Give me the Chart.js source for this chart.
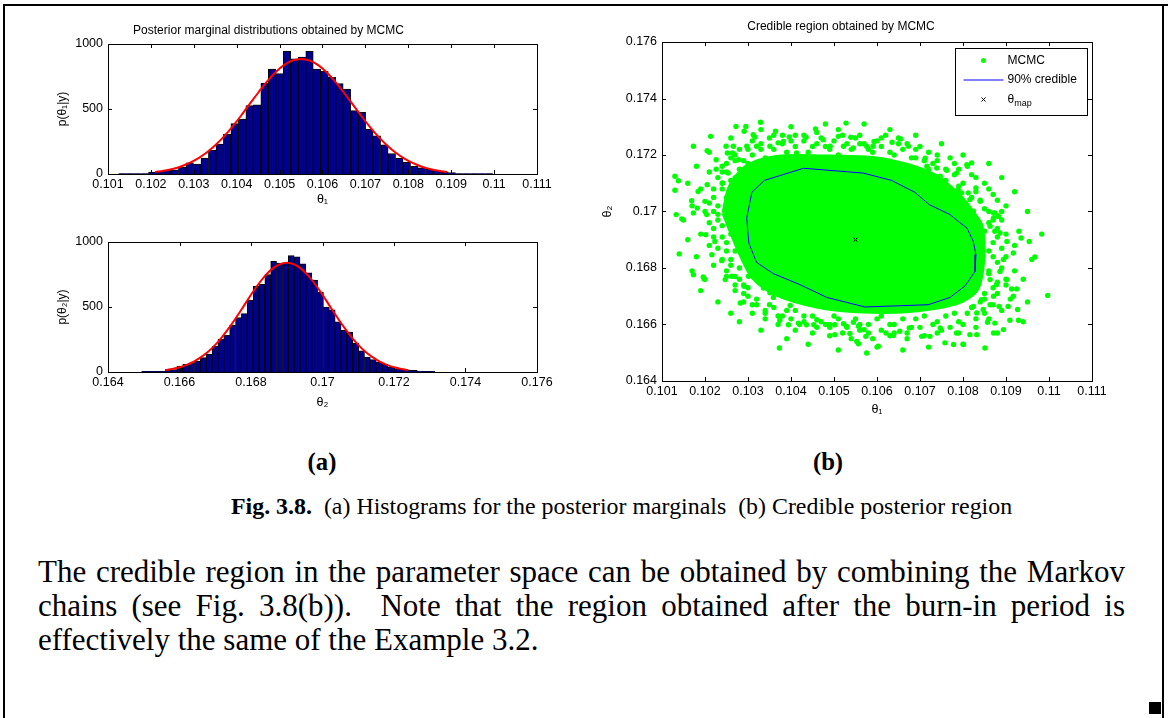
<!DOCTYPE html>
<html>
<head>
<meta charset="utf-8">
<script src="https://cdn.jsdelivr.net/npm/chart.js@4.4.1/dist/chart.umd.min.js"></script>
<style>
    html, body { margin: 0; padding: 0; background: #fff; }
    body { width: 1168px; height: 718px; position: relative; overflow: hidden; color: #000; font-family: "Liberation Serif", "Times New Roman", serif; }
    canvas { position: absolute; }
    #hist1 { left: 0; top: 0; }
    #hist2 { left: 0; top: 222px; }
    #region { left: 590px; top: 0; }
    .rule { position: absolute; background: #000; }
    .panel { position: absolute; top: 447px; line-height: 30px; font-size: 24.7px; font-weight: bold; transform: translateX(-50%); }
    .caption { position: absolute; left: 231px; top: 491px; line-height: 30px; font-size: 23.9px; white-space: nowrap; }
    .body-text { position: absolute; left: 38px; width: 1087px; font-size: 31px; line-height: 34px; }
    .body-text div { text-align: justify; text-align-last: justify; white-space: nowrap; }
    .body-text div.last { text-align: left; text-align-last: left; }
    .qed { position: absolute; left: 1149px; top: 702px; width: 12px; height: 12px; background: #000; }
</style>
</head>
<body>
<div class="rule" style="left:3px; top:4px; width:1165px; height:2px;"></div>
<div class="rule" style="left:3px; top:4px; width:2px; height:714px;"></div>
<div class="rule" style="left:1162px; top:4px; width:2px; height:714px;"></div>

<canvas id="hist1" width="560" height="222"></canvas>
<canvas id="hist2" width="560" height="203"></canvas>
<canvas id="region" width="560" height="425"></canvas>

<div class="panel" style="left:322px;">(a)</div>
<div class="panel" style="left:828px;">(b)</div>
<div class="caption"><b>Fig. 3.8.</b>&nbsp; (a) Histograms for the posterior marginals &nbsp;(b) Credible posterior region</div>
<div class="body-text" style="top:555px;">
    <div>The credible region in the parameter space can be obtained by combining the Markov</div>
    <div>chains (see Fig. 3.8(b)).&nbsp; Note that the region obtained after the burn-in period is</div>
    <div class="last">effectively the same of the Example 3.2.</div>
</div>
<div class="qed"></div>

<script>
// theta_1 marginal: 50 histogram bins (centres) and counts
const theta1Bins = [0.101334, 0.101509, 0.101683, 0.101858, 0.102032, 0.102207, 0.102381, 0.102556, 0.102730, 0.102905,
    0.103079, 0.103254, 0.103428, 0.103603, 0.103777, 0.103952, 0.104126, 0.104301, 0.104475, 0.104650,
    0.104824, 0.104999, 0.105173, 0.105348, 0.105522, 0.105697, 0.105871, 0.106046, 0.106220, 0.106395,
    0.106569, 0.106744, 0.106918, 0.107093, 0.107267, 0.107442, 0.107616, 0.107791, 0.107965, 0.108140,
    0.108314, 0.108489, 0.108663, 0.108838, 0.109012, 0.109187, 0.109361, 0.109536, 0.109710, 0.109885];
const theta1Counts = [3, 3, 3, 3, 15, 20, 28, 33, 54, 85,
    77, 123, 182, 230, 308, 387, 423, 526, 533, 700,
    808, 772, 944, 885, 900, 944, 808, 790, 744, 695,
    654, 487, 475, 343, 293, 225, 158, 120, 90, 59,
    48, 38, 30, 16, 10, 3, 3, 3, 3, 3];
// fitted density for theta_1 (scaled to counts)
const theta1FitX = [0.1021, 0.1023, 0.1025, 0.1027, 0.1029, 0.1031, 0.1033, 0.1035, 0.1037, 0.1039,
    0.1041, 0.1043, 0.1045, 0.1047, 0.1049, 0.1051, 0.1053, 0.1055, 0.1057, 0.1059,
    0.1061, 0.1063, 0.1065, 0.1067, 0.1069, 0.1071, 0.1073, 0.1075, 0.1077, 0.1079,
    0.1081, 0.1083, 0.1085, 0.1087, 0.1089];
const theta1FitY = [16, 25, 39, 58, 85, 120, 165, 221, 287, 364,
    448, 537, 625, 709, 781, 837, 873, 885, 873, 837,
    781, 709, 625, 537, 448, 364, 287, 221, 165, 120,
    85, 58, 39, 25, 16];
const theta1Ticks = [0.101, 0.102, 0.103, 0.104, 0.105, 0.106, 0.107, 0.108, 0.109, 0.110, 0.111];

// theta_2 marginal
const theta2Bins = [0.165025, 0.165189, 0.165353, 0.165517, 0.165681, 0.165845, 0.166009, 0.166173, 0.166337, 0.166501,
    0.166665, 0.166829, 0.166993, 0.167157, 0.167321, 0.167485, 0.167649, 0.167813, 0.167977, 0.168141,
    0.168305, 0.168469, 0.168633, 0.168797, 0.168961, 0.169125, 0.169289, 0.169453, 0.169617, 0.169781,
    0.169945, 0.170109, 0.170273, 0.170437, 0.170601, 0.170765, 0.170929, 0.171093, 0.171257, 0.171421,
    0.171585, 0.171749, 0.171913, 0.172077, 0.172241, 0.172405, 0.172569, 0.172733, 0.172897, 0.173061];
const theta2Counts = [5, 5, 5, 5, 18, 18, 46, 59, 69, 82,
    110, 136, 197, 251, 282, 359, 418, 449, 551, 659,
    674, 749, 851, 838, 838, 895, 885, 833, 762, 705,
    615, 500, 479, 385, 320, 308, 223, 162, 115, 95,
    77, 59, 38, 26, 20, 15, 12, 8, 5, 5];
const theta2FitX = [0.1656, 0.1658, 0.1660, 0.1662, 0.1664, 0.1666, 0.1668, 0.1670, 0.1672, 0.1674,
    0.1676, 0.1678, 0.1680, 0.1682, 0.1684, 0.1686, 0.1688, 0.1690, 0.1692, 0.1694,
    0.1696, 0.1698, 0.1700, 0.1702, 0.1704, 0.1706, 0.1708, 0.1710, 0.1712, 0.1714,
    0.1716, 0.1718, 0.1720, 0.1722, 0.1724];
const theta2FitY = [15, 24, 37, 55, 80, 114, 156, 209, 273, 345,
    425, 509, 594, 673, 741, 795, 828, 840, 828, 795,
    741, 673, 594, 509, 425, 345, 273, 209, 156, 114,
    80, 55, 37, 24, 15];
const theta2Ticks = [0.164, 0.166, 0.168, 0.170, 0.172, 0.174, 0.176];
const countTicks = [0, 500, 1000];

// joint MCMC samples: solid core of the cloud, then the individual samples around it
const mcmcCore = [[0.10243, 0.16995], [0.10258, 0.17089], [0.10297, 0.17160], [0.10367, 0.17193], [0.10475, 0.17195],
    [0.10591, 0.17189], [0.10669, 0.17166], [0.10739, 0.17124], [0.10793, 0.17054], [0.10824, 0.16995],
    [0.10843, 0.16948], [0.10847, 0.16829], [0.10832, 0.16723], [0.10785, 0.16676], [0.10669, 0.16647],
    [0.10553, 0.16647], [0.10460, 0.16664], [0.10367, 0.16706], [0.10312, 0.16765], [0.10281, 0.16853],
    [0.10258, 0.16936], [0.10243, 0.16995]];
const mcmcSamples = [
    [0.10130, 0.17125], [0.10138, 0.17109], [0.10130, 0.17075], [0.10173, 0.17231], [0.10205, 0.17215], [0.10213, 0.17266],
    [0.10226, 0.17183], [0.10249, 0.17231], [0.10252, 0.17207], [0.10272, 0.17301], [0.10295, 0.17301], [0.10291, 0.17284],
    [0.10329, 0.17316], [0.10312, 0.17272], [0.10316, 0.17264], [0.10364, 0.17284], [0.10435, 0.17263], [0.10457, 0.17292],
    [0.10396, 0.17264], [0.10528, 0.17313], [0.10510, 0.17266], [0.10539, 0.17263], [0.10593, 0.17248], [0.10655, 0.17257],
    [0.10635, 0.17245], [0.10673, 0.17231], [0.10712, 0.17189], [0.10762, 0.17146], [0.10809, 0.17166], [0.10820, 0.17172],
    [0.10830, 0.17083], [0.10840, 0.17036], [0.10871, 0.16995], [0.10882, 0.16983], [0.10789, 0.17077], [0.10812, 0.17066],
    [0.10184, 0.17071], [0.10169, 0.17038], [0.10182, 0.17012], [0.10200, 0.17036], [0.10205, 0.17095], [0.10226, 0.17150],
    [0.10241, 0.17101], [0.10254, 0.17136], [0.10266, 0.17231], [0.10264, 0.17207], [0.10278, 0.17183], [0.10297, 0.17231],
    [0.10320, 0.17231], [0.10351, 0.17231], [0.10370, 0.17243], [0.10382, 0.17248], [0.10413, 0.17207], [0.10475, 0.17254],
    [0.10491, 0.17231], [0.10522, 0.17231], [0.10545, 0.17225], [0.10576, 0.17231], [0.10591, 0.17231], [0.10716, 0.17160],
    [0.10739, 0.17154], [0.10747, 0.17125], [0.10785, 0.17136], [0.10797, 0.17066], [0.10816, 0.17042], [0.10824, 0.17001],
    [0.10133, 0.16989], [0.10146, 0.16974], [0.10173, 0.16995], [0.10204, 0.16989], [0.10202, 0.16918], [0.10216, 0.16847],
    [0.10223, 0.16894], [0.10239, 0.16826], [0.10247, 0.16759], [0.10262, 0.16771], [0.10173, 0.16776], [0.10196, 0.16768],
    [0.10198, 0.16761], [0.10282, 0.16676], [0.10291, 0.16735], [0.10301, 0.16771], [0.10336, 0.16729], [0.10351, 0.16712],
    [0.10359, 0.16696], [0.10382, 0.16700], [0.10398, 0.16667], [0.10409, 0.16688], [0.10417, 0.16605], [0.10436, 0.16599],
    [0.10453, 0.16599], [0.10491, 0.16599], [0.10502, 0.16599], [0.10522, 0.16603], [0.10529, 0.16594], [0.10537, 0.16568],
    [0.10545, 0.16608], [0.10557, 0.16594], [0.10570, 0.16582], [0.10574, 0.16558], [0.10576, 0.16499], [0.10603, 0.16523],
    [0.10621, 0.16570], [0.10638, 0.16561], [0.10653, 0.16576], [0.10675, 0.16588], [0.10704, 0.16558], [0.10723, 0.16558],
    [0.10747, 0.16588], [0.10758, 0.16535], [0.10778, 0.16529], [0.10801, 0.16529], [0.10785, 0.16570], [0.10816, 0.16564],
    [0.10832, 0.16564], [0.10851, 0.16517], [0.10871, 0.16570], [0.10894, 0.16582], [0.10909, 0.16615], [0.10874, 0.16605],
    [0.10857, 0.16608], [0.10929, 0.16615], [0.10927, 0.16653], [0.10905, 0.16664], [0.10913, 0.16726], [0.10925, 0.16726],
    [0.10917, 0.16853], [0.10935, 0.16906], [0.10954, 0.16894], [0.10967, 0.16839], [0.10983, 0.16920], [0.10997, 0.16703],
    [0.10902, 0.16894], [0.10894, 0.16830], [0.10886, 0.16788], [0.10878, 0.16741], [0.10871, 0.16700], [0.10884, 0.16664],
    [0.10863, 0.16759], [0.10902, 0.16759], [0.10863, 0.16670], [0.10917, 0.16700], [0.10832, 0.16641], [0.10847, 0.16653],
    [0.10824, 0.16664], [0.10843, 0.16688], [0.10874, 0.16930], [0.10886, 0.16924], [0.10871, 0.16977], [0.10882, 0.16983],
    [0.10874, 0.16995], [0.10863, 0.16948], [0.10373, 0.16517], [0.10502, 0.16564], [0.10489, 0.16599], [0.10553, 0.16540],
    [0.10557, 0.16532], [0.10374, 0.16615], [0.10394, 0.16599], [0.10460, 0.16617],
    [0.1025, 0.1702], [0.1027, 0.1712], [0.1029, 0.1718], [0.1033, 0.1722], [0.1038, 0.1724], [0.1043, 0.1725],
    [0.1048, 0.1723], [0.1053, 0.1724], [0.1058, 0.1722], [0.1063, 0.1721], [0.1068, 0.1719], [0.1072, 0.1715],
    [0.1076, 0.1711], [0.1079, 0.1709], [0.1082, 0.1705], [0.1085, 0.1701], [0.1086, 0.1696], [0.1088, 0.1691],
    [0.1087, 0.1684], [0.1086, 0.1679], [0.1088, 0.1675], [0.1085, 0.1669], [0.1082, 0.1666], [0.1078, 0.1664],
    [0.1074, 0.1661], [0.1069, 0.1662], [0.1064, 0.1660], [0.1060, 0.1662], [0.1056, 0.1660], [0.1051, 0.1662],
    [0.1047, 0.1661], [0.1043, 0.1663], [0.1039, 0.1665], [0.1035, 0.1667], [0.1032, 0.1669], [0.1030, 0.1673],
    [0.1028, 0.1676], [0.1026, 0.1681], [0.1025, 0.1686], [0.1024, 0.1691], [0.1022, 0.1694], [0.1023, 0.1699],
    [0.1020, 0.1700], [0.1022, 0.1705], [0.1019, 0.1708], [0.1024, 0.1710], [0.1021, 0.1714], [0.1023, 0.1697],
    [0.1019, 0.1692], [0.1021, 0.1688], [0.1018, 0.1684], [0.1022, 0.1681], [0.1020, 0.1676], [0.1025, 0.1677],
    [0.1027, 0.1672], [0.1029, 0.1668], [0.1031, 0.1664], [0.1034, 0.1662], [0.1037, 0.1660], [0.1041, 0.1658],
    [0.1045, 0.1657], [0.1049, 0.1656], [0.1054, 0.1655], [0.1058, 0.1657], [0.1063, 0.1656], [0.1067, 0.1657],
    [0.1071, 0.1656], [0.1075, 0.1658], [0.1079, 0.1657], [0.1083, 0.1659], [0.1086, 0.1662], [0.1089, 0.1665],
    [0.1091, 0.1669], [0.1090, 0.1674], [0.1092, 0.1679], [0.1090, 0.1684], [0.1092, 0.1688], [0.1090, 0.1692],
    [0.1089, 0.1697], [0.1090, 0.1702], [0.1087, 0.1706], [0.1085, 0.1710], [0.1082, 0.1713], [0.1078, 0.1717],
    [0.1074, 0.1720], [0.1069, 0.1722], [0.1065, 0.1724], [0.1061, 0.1726], [0.1056, 0.1727], [0.1051, 0.1729],
    [0.1046, 0.1728], [0.1041, 0.1727], [0.1036, 0.1727], [0.1031, 0.1725], [0.1028, 0.1722], [0.1026, 0.1719],
    [0.1024, 0.1716], [0.1027, 0.1704],
    [0.1031, 0.1720], [0.1034, 0.1719], [0.1036, 0.1722], [0.1039, 0.1721], [0.1041, 0.1723], [0.1044, 0.1721],
    [0.1046, 0.1724], [0.1049, 0.1722], [0.1051, 0.1720], [0.1054, 0.1722], [0.1056, 0.1724], [0.1059, 0.1721],
    [0.1061, 0.1723], [0.1064, 0.1720], [0.1066, 0.1722], [0.1069, 0.1719], [0.1071, 0.1718], [0.1073, 0.1717],
    [0.1076, 0.1715], [0.1078, 0.1713], [0.1080, 0.1710], [0.1083, 0.1707], [0.1084, 0.1704],
    [0.1086, 0.1700], [0.1087, 0.1697], [0.1085, 0.1693], [0.1087, 0.1689], [0.1086, 0.1686], [0.1088, 0.1682],
    [0.1086, 0.1678], [0.1087, 0.1673], [0.1085, 0.1671], [0.1084, 0.1668],
    [0.1081, 0.1664], [0.1079, 0.1661], [0.1076, 0.1663], [0.1073, 0.1660], [0.1071, 0.1663], [0.1068, 0.1659],
    [0.1066, 0.1662], [0.1063, 0.1660], [0.1061, 0.1663], [0.1058, 0.1660], [0.1055, 0.1662], [0.1053, 0.1659],
    [0.1050, 0.1663], [0.1048, 0.1660], [0.1045, 0.1663], [0.1043, 0.1661], [0.1041, 0.1665], [0.1038, 0.1663],
    [0.1036, 0.1666], [0.1034, 0.1665], [0.1032, 0.1667], [0.1030, 0.1670],
    [0.1029, 0.1674], [0.1027, 0.1677], [0.1028, 0.1680], [0.1026, 0.1683], [0.1027, 0.1686], [0.1025, 0.1689],
    [0.1026, 0.1692], [0.1024, 0.1695], [0.1025, 0.1698], [0.1023, 0.1702], [0.1025, 0.1705], [0.1024, 0.1708],
    [0.1026, 0.1711], [0.1025, 0.1714], [0.1028, 0.1715], [0.1027, 0.1718], [0.1030, 0.1717],
    [0.1017, 0.1702], [0.1015, 0.1697], [0.1016, 0.1690], [0.1014, 0.1685], [0.1017, 0.1679], [0.1019, 0.1672],
    [0.1023, 0.1668], [0.1026, 0.1664], [0.1028, 0.1661], [0.1033, 0.1658], [0.1039, 0.1655], [0.1044, 0.1653],
    [0.1051, 0.1651], [0.1060, 0.1652], [0.1066, 0.1651], [0.1072, 0.1652], [0.1080, 0.1653], [0.1088, 0.1657],
    [0.1094, 0.1661], [0.1095, 0.1668], [0.1094, 0.1676], [0.1096, 0.1683], [0.1093, 0.1693], [0.1095, 0.1700],
    [0.1092, 0.1707], [0.1089, 0.1712], [0.1086, 0.1717], [0.1080, 0.1720], [0.1075, 0.1724], [0.1069, 0.1727],
    [0.1063, 0.1729], [0.1057, 0.1731], [0.1048, 0.1731], [0.1040, 0.1730], [0.1033, 0.1729], [0.1026, 0.1726],
    [0.1021, 0.1721], [0.1018, 0.1716], [0.1016, 0.1710],
    [0.1030, 0.1722], [0.1033, 0.1724], [0.1035, 0.1726], [0.1038, 0.1727], [0.1040, 0.1725], [0.1043, 0.1727],
    [0.1045, 0.1723], [0.1047, 0.1726], [0.1050, 0.1725], [0.1052, 0.1727], [0.1055, 0.1726], [0.1057, 0.1724],
    [0.1060, 0.1725], [0.1062, 0.1727], [0.1065, 0.1726], [0.1067, 0.1724], [0.1070, 0.1723], [0.1072, 0.1721],
    [0.1074, 0.1718], [0.1077, 0.1719], [0.1079, 0.1715], [0.1081, 0.1716], [0.1083, 0.1712],
    [0.1086, 0.1708], [0.1088, 0.1704], [0.1089, 0.1700], [0.1088, 0.1694], [0.1089, 0.1687], [0.1089, 0.1680],
    [0.1090, 0.1676], [0.1088, 0.1671], [0.1087, 0.1667], [0.1085, 0.1664], [0.1083, 0.1662],
    [0.1080, 0.1660], [0.1077, 0.1659], [0.1074, 0.1657], [0.1070, 0.1659], [0.1067, 0.1655], [0.1064, 0.1657],
    [0.1061, 0.1658], [0.1059, 0.1655], [0.1056, 0.1658], [0.1052, 0.1657], [0.1049, 0.1659], [0.1046, 0.1659],
    [0.1042, 0.1660], [0.1040, 0.1662], [0.1037, 0.1663], [0.1034, 0.1664], [0.1031, 0.1667], [0.1029, 0.1671],
    [0.1027, 0.1674], [0.1025, 0.1679], [0.1024, 0.1683], [0.1023, 0.1687], [0.1022, 0.1691], [0.1021, 0.1696],
    [0.1022, 0.1700], [0.1021, 0.1703], [0.1022, 0.1708], [0.1023, 0.1712], [0.1024, 0.1714], [0.1025, 0.1717],
    [0.1027, 0.1720]];
// 90% credible contour and MAP estimate
const credible90 = [[0.10297, 0.16977], [0.10309, 0.17068], [0.10338, 0.17110], [0.10429, 0.17153], [0.10568, 0.17136],
    [0.10634, 0.17110], [0.10688, 0.17068], [0.10722, 0.17024], [0.10770, 0.16989], [0.10789, 0.16965],
    [0.10809, 0.16942], [0.10824, 0.16894], [0.10830, 0.16847], [0.10828, 0.16788], [0.10805, 0.16737],
    [0.10770, 0.16696], [0.10719, 0.16670], [0.10572, 0.16662], [0.10483, 0.16696], [0.10421, 0.16741],
    [0.10359, 0.16780], [0.10320, 0.16820], [0.10302, 0.16888], [0.10297, 0.16977]];
const thetaMap = [0.1055, 0.1690];
const regionTicksX = theta1Ticks;
const regionTicksY = [0.164, 0.166, 0.168, 0.170, 0.172, 0.174, 0.176];

const SANS = 'Liberation Sans, Arial, DejaVu Sans, sans-serif';
Chart.defaults.color = '#000';
Chart.defaults.font.family = SANS;

const toXY = (xs, ys) => xs.map((x, i) => ({ x: x, y: ys[i] }));
const toPts = (pairs) => pairs.map(p => ({ x: p[0], y: p[1] }));
const fixedTicks = (values) => (scale) => { scale.ticks = values.map(v => ({ value: v })); };
const fmt = (v) => String(+(+v).toFixed(3));
const plainAxis = { display: false, drawTicks: false };

// matlab style axes: closed box, ticks pointing inwards on all four sides
const matlabBox = {
    id: 'matlabBox',
    afterDatasetsDraw(chart) {
        const { ctx, chartArea: a, scales } = chart;
        const len = 4;
        ctx.save();
        ctx.strokeStyle = '#000';
        ctx.lineWidth = 1;
        ctx.beginPath();
        scales.x.ticks.forEach((t) => {
            const px = Math.round(scales.x.getPixelForValue(t.value)) + 0.5;
            ctx.moveTo(px, a.bottom); ctx.lineTo(px, a.bottom - len);
            ctx.moveTo(px, a.top); ctx.lineTo(px, a.top + len);
        });
        scales.y.ticks.forEach((t) => {
            const py = Math.round(scales.y.getPixelForValue(t.value)) + 0.5;
            ctx.moveTo(a.left, py); ctx.lineTo(a.left + len, py);
            ctx.moveTo(a.right, py); ctx.lineTo(a.right - len, py);
        });
        ctx.stroke();
        ctx.strokeRect(Math.round(a.left) + 0.5, Math.round(a.top) + 0.5, Math.round(a.width), Math.round(a.height));
        ctx.restore();
    }
};

// legend box in the upper right corner of the plot
const cornerLegend = {
    id: 'cornerLegend',
    afterDraw(chart) {
        const items = chart.data.datasets.filter(d => d.inLegend);
        if (!items.length) return;
        const { ctx, chartArea: a } = chart;
        const w = 132, h = 67;
        const x0 = Math.round(a.right - w - 5) + 0.5, y0 = Math.round(a.top + 6) + 0.5;
        ctx.save();
        ctx.fillStyle = '#fff';
        ctx.fillRect(x0, y0, w, h);
        ctx.strokeStyle = '#000';
        ctx.lineWidth = 1;
        ctx.strokeRect(x0, y0, w, h);
        items.forEach((d, i) => {
            const cy = y0 + 12 + i * 19.5;
            const mx = x0 + 28;
            if (d.showLine) {
                ctx.strokeStyle = d.borderColor;
                ctx.beginPath(); ctx.moveTo(x0 + 8, cy); ctx.lineTo(x0 + 48, cy); ctx.stroke();
            } else if (d.pointStyle === 'crossRot') {
                ctx.strokeStyle = '#000';
                ctx.beginPath();
                ctx.moveTo(mx - 2, cy - 2); ctx.lineTo(mx + 2, cy + 2);
                ctx.moveTo(mx + 2, cy - 2); ctx.lineTo(mx - 2, cy + 2);
                ctx.stroke();
            } else {
                ctx.fillStyle = d.backgroundColor;
                ctx.beginPath(); ctx.arc(mx, cy, 2.5, 0, Math.PI * 2); ctx.fill();
            }
            // label, with "_" marking a subscript
            const [base, sub] = d.label.split('_');
            ctx.fillStyle = '#000';
            ctx.textBaseline = 'middle';
            ctx.font = '12px ' + SANS;
            ctx.fillText(base, x0 + 52, cy);
            if (sub) {
                const bw = ctx.measureText(base).width;
                ctx.font = '9px ' + SANS;
                ctx.fillText(sub, x0 + 52 + bw, cy + 4);
            }
        });
        ctx.restore();
    }
};

function histogramChart(canvasId, bins, counts, fitX, fitY, ticksX, opts) {
    return new Chart(document.getElementById(canvasId), {
        type: 'bar',
        data: {
            datasets: [
                {
                    type: 'line', data: toXY(fitX, fitY), borderColor: '#ff0000', borderWidth: 2,
                    pointRadius: 0, tension: 0.4, order: 1
                },
                {
                    data: toXY(bins, counts), backgroundColor: '#00008f', borderColor: '#000', borderWidth: 1,
                    barPercentage: 1, categoryPercentage: 1, order: 2
                }
            ]
        },
        options: {
            responsive: false,
            animation: false,
            layout: { padding: { left: 0, right: 23, top: opts.padTop, bottom: 0 } },
            plugins: {
                legend: { display: false },
                tooltip: { enabled: false },
                title: opts.title ? {
                    display: true, text: opts.title, font: { size: 12, weight: 'normal' },
                    padding: { top: 23, bottom: 6.6 }
                } : { display: false }
            },
            scales: {
                x: {
                    type: 'linear', min: ticksX[0], max: ticksX[ticksX.length - 1], offset: false,
                    grid: plainAxis, border: { display: false },
                    afterBuildTicks: fixedTicks(ticksX),
                    afterFit: (s) => { s.height = opts.xAxisHeight; },
                    ticks: { padding: 3, maxRotation: 0, autoSkip: false, font: { size: 12.5 }, callback: fmt },
                    title: { display: true, text: opts.xLabel, font: { size: 12.5 }, padding: { top: 0, bottom: 14.8 } }
                },
                y: {
                    min: 0, max: 1000,
                    grid: plainAxis, border: { display: false },
                    afterBuildTicks: fixedTicks(countTicks),
                    afterFit: (s) => { s.width = 108; },
                    ticks: { padding: 5, font: { size: 12.5 }, callback: (v) => String(v) },
                    title: { display: true, text: opts.yLabel, font: { size: 12 }, padding: { top: 55, bottom: 0 } }
                }
            }
        },
        plugins: [matlabBox]
    });
}

histogramChart('hist1', theta1Bins, theta1Counts, theta1FitX, theta1FitY, theta1Ticks, {
    title: 'Posterior marginal distributions obtained by MCMC', padTop: 0, xAxisHeight: 48,
    xLabel: 'θ₁', yLabel: 'p(θ₁|y)'
});
histogramChart('hist2', theta2Bins, theta2Counts, theta2FitX, theta2FitY, theta2Ticks, {
    title: null, padTop: 20, xAxisHeight: 53,
    xLabel: 'θ₂', yLabel: 'p(θ₂|y)'
});

new Chart(document.getElementById('region'), {
    type: 'scatter',
    data: {
        datasets: [
            {
                label: 'core', data: toPts(mcmcCore), showLine: true, fill: 'shape', tension: 0.3,
                backgroundColor: '#00ff00', borderColor: '#00ff00', borderWidth: 4, pointRadius: 0, order: 4
            },
            {
                label: 'MCMC', inLegend: true, data: toPts(mcmcSamples), backgroundColor: '#00ff00',
                borderWidth: 0, pointRadius: 2.7, order: 3
            },
            {
                label: '90% credible', inLegend: true, data: toPts(credible90), showLine: true,
                borderColor: '#0000ff', borderWidth: 1, pointRadius: 0, order: 2
            },
            {
                label: 'θ_map', inLegend: true, data: [{ x: thetaMap[0], y: thetaMap[1] }], pointStyle: 'crossRot',
                pointRadius: 3, borderColor: '#000', borderWidth: 1, order: 1
            }
        ]
    },
    options: {
        responsive: false,
        animation: false,
        layout: { padding: { left: 0, right: 58, top: 0, bottom: 0 } },
        plugins: {
            legend: { display: false },
            tooltip: { enabled: false },
            title: {
                display: true, text: 'Credible region obtained by MCMC', font: { size: 12, weight: 'normal' },
                padding: { top: 19.8, bottom: 7.8 }
            }
        },
        scales: {
            x: {
                type: 'linear', min: 0.101, max: 0.111,
                grid: plainAxis, border: { display: false },
                afterBuildTicks: fixedTicks(regionTicksX),
                afterFit: (s) => { s.height = 44; },
                ticks: { padding: 3, maxRotation: 0, autoSkip: false, font: { size: 12.5 }, callback: fmt },
                title: { display: true, text: 'θ₁', font: { size: 12.5 }, padding: { top: 0, bottom: 7.8 } }
            },
            y: {
                min: 0.164, max: 0.176,
                grid: plainAxis, border: { display: false },
                afterBuildTicks: fixedTicks(regionTicksY),
                afterFit: (s) => { s.width = 72; },
                ticks: { padding: 5, font: { size: 12.5 }, callback: fmt },
                title: { display: true, text: 'θ₂', font: { size: 12.5 }, padding: { top: 9.8, bottom: 0 } }
            }
        }
    },
    plugins: [matlabBox, cornerLegend]
});
</script>
</body>
</html>
